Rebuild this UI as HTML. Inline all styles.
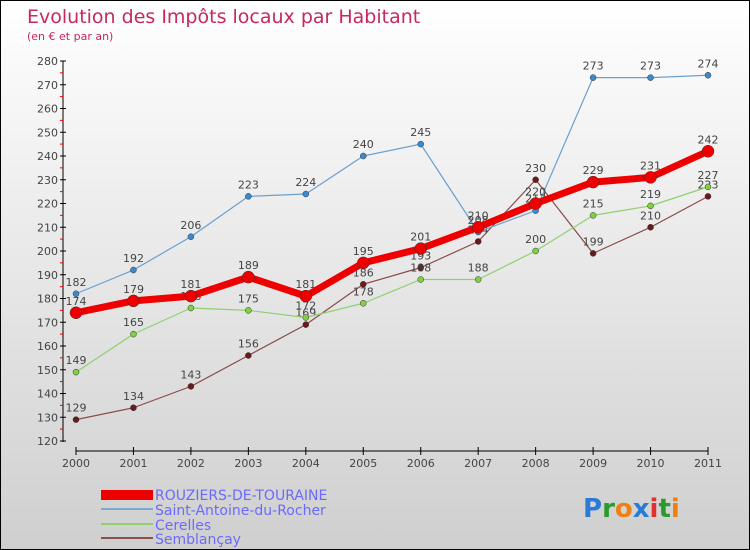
<!DOCTYPE html>
<html><head><meta charset="utf-8"><style>
body{margin:0}
#c{width:748px;height:548px;border:1px solid #000;background:linear-gradient(#fff,#cfcfcf);position:relative;font-family:"DejaVu Sans","Liberation Sans",sans-serif;overflow:hidden}
svg text{font-family:"DejaVu Sans","Liberation Sans",sans-serif}
</style></head><body>
<div id="c">
<svg id="s" width="748" height="548">
<text x="26" y="22" font-size="19" fill="#c8285a">Evolution des Impôts locaux par Habitant</text>
<text x="26" y="39" font-size="11" fill="#c8285a">(en € et par an)</text>
<g id="ax"></g><g id="ser"></g>
<g>
<rect x="100" y="489" width="52" height="10" fill="#e00"/>
<text x="154" y="499" font-size="14" fill="#6a6aff">ROUZIERS-DE-TOURAINE</text>
<line x1="100" y1="508" x2="152" y2="508" stroke="#7aaad0" stroke-width="2"/>
<text x="154" y="514" font-size="14" fill="#6a6aff">Saint-Antoine-du-Rocher</text>
<line x1="100" y1="523" x2="152" y2="523" stroke="#90d070" stroke-width="2"/>
<text x="154" y="529" font-size="14" fill="#6a6aff">Cerelles</text>
<line x1="100" y1="537" x2="152" y2="537" stroke="#8a5050" stroke-width="2"/>
<text x="154" y="543" font-size="14" fill="#6a6aff">Semblançay</text>
</g>
<g font-size="26" font-weight="bold">
<text x="582" y="516"><tspan fill="#2a7ad8">P</tspan><tspan fill="#2a9a2a">r</tspan><tspan fill="#f08010">o</tspan><tspan fill="#2a7ad8">x</tspan><tspan fill="#e03030">i</tspan><tspan fill="#2a9a2a">t</tspan><tspan fill="#f08010">i</tspan></text>
</g>
</svg></div>
<script>
const years=[2000,2001,2002,2003,2004,2005,2006,2007,2008,2009,2010,2011];
const rouziers=[174,179,181,189,181,195,201,210,220,229,231,242];
const saintAntoine=[182,192,206,223,224,240,245,208,217,273,273,274];
const cerelles=[149,165,176,175,172,178,188,188,200,215,219,227];
const semblancay=[129,134,143,156,169,186,193,204,230,199,210,223];
const yTicks=[120,130,140,150,160,170,180,190,200,210,220,230,240,250,260,270,280];
const NS='http://www.w3.org/2000/svg';
const xs=i=>75+i*(632/11), ys=v=>440-(v-120)*2.375;
function mk(t,a,p){const e=document.createElementNS(NS,t);for(const k in a)e.setAttribute(k,a[k]);p.appendChild(e);return e;}
const ax=document.getElementById('ax');
let l=mk('line',{x1:62,y1:60,x2:62,y2:441,stroke:'#000'},ax);


l=mk('line',{x1:75,y1:450,x2:707,y2:450,stroke:'#000'},ax);


yTicks.forEach(v=>{const y=ys(v);
mk('line',{x1:59,y1:y,x2:65,y2:y,stroke:'#000'},ax);
if(v<280)mk('line',{x1:59,y1:y-11.9,x2:62,y2:y-11.9,stroke:'#e00'},ax);
const t=mk('text',{x:57,y:y+4,'font-size':11,fill:'#444','text-anchor':'end'},ax);t.textContent=v;

});
years.forEach((yr,i)=>{const x=xs(i);
mk('line',{x1:x,y1:446,x2:x,y2:454,stroke:'#000'},ax);
const t=mk('text',{x:x,y:466,'font-size':11,fill:'#444','text-anchor':'middle'},ax);t.textContent=yr;

});
const ser=document.getElementById('ser');
function draw(vals,col,w,r,name,dot){
const g=mk('g',{},ser);


mk('polyline',{points:vals.map((v,i)=>xs(i)+','+ys(v)).join(' '),fill:'none',stroke:col,'stroke-width':w,'stroke-linejoin':'round'},g);
vals.forEach((v,i)=>{const c=mk('circle',{cx:xs(i),cy:ys(v),r:r,fill:dot,stroke:'#333','stroke-width':0.5},g);


const t=mk('text',{x:xs(i),y:ys(v)-8,'font-size':11,fill:'#444','text-anchor':'middle'},g);t.textContent=v;});}
draw(semblancay,'#8a4a4a',1.2,3,'semblancay','#6a1a1a');
draw(cerelles,'#90d070',1.2,3,'cerelles','#80d040');
draw(saintAntoine,'#6aa0d0',1.2,3,'saint-antoine','#3a8ad0');
draw(rouziers,'#e00',7,6,'rouziers','#e00');
</script>
</body></html>
